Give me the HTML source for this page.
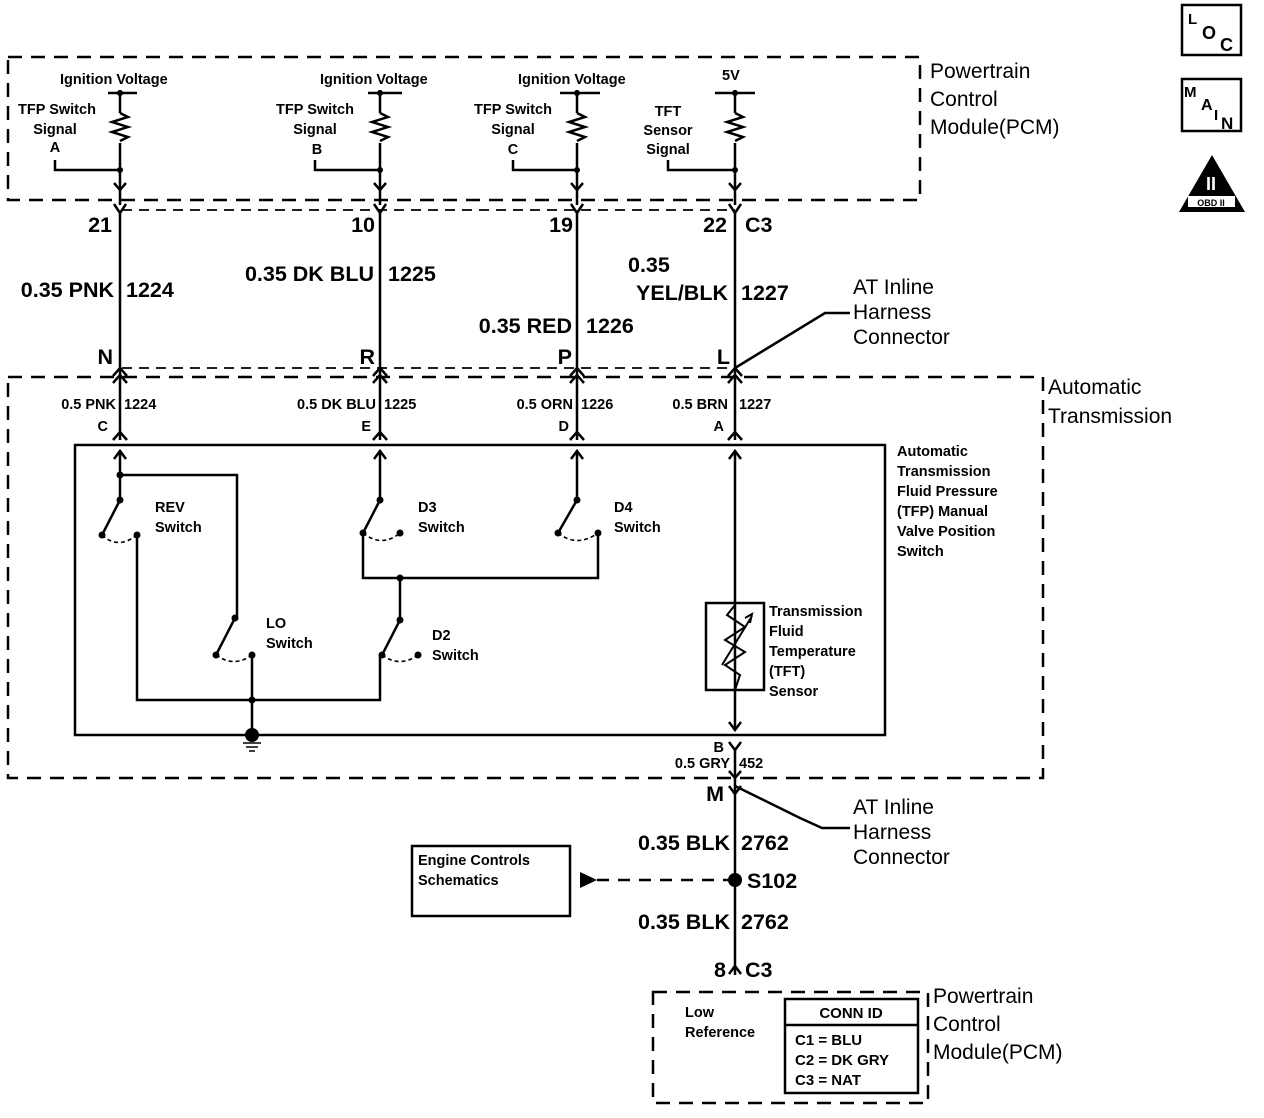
<!DOCTYPE html>
<html><head><meta charset="utf-8"><style>
html,body{margin:0;padding:0;background:#fff;}
svg{display:block;}
text{font-family:"Liberation Sans",sans-serif;fill:#000;font-weight:bold;}
.s{font-size:14.5px;}
.m{font-size:15px;}
.l{font-size:21px;font-weight:normal;}
.b{font-size:21.5px;}
</style></head><body>
<svg width="1264" height="1118" viewBox="0 0 1264 1118" xmlns="http://www.w3.org/2000/svg">
<g fill="none" stroke="#000" stroke-width="2.5">
<path d="M8 57 H920 V200 H8 Z" stroke-dasharray="14 9"/>
<path d="M122 210 H735" stroke-width="1.8" stroke-dasharray="10 7"/>
<path d="M122 368 H735" stroke-width="1.8" stroke-dasharray="10 7"/>
<path d="M8 377 H1043 V778 H8 Z" stroke-dasharray="14 9"/>
<rect x="75" y="445" width="810" height="290"/>
<path d="M653 992 H928 V1103 H653 Z" stroke-dasharray="14 9"/>
<path d="M120 90 V205 M120 213 V440 M380 90 V205 M380 213 V440 M577 90 V205 M577 213 V440 M735 90 V205 M735 213 V440"/>
<path d="M108 93 H137 M368 93 H402 M560 93 H600 M715 93 H755"/>
<path d="M55 160 V170 H120 M315 160 V170 H380 M513 160 V170 H577 M668 160 V170 H735"/>
</g>
<g fill="#fff" stroke="none">
<rect x="114" y="113" width="12" height="30"/><rect x="374" y="113" width="12" height="30"/><rect x="571" y="113" width="12" height="30"/><rect x="729" y="113" width="12" height="30"/>
</g>
<g fill="none" stroke="#000" stroke-width="2.5">
<path d="M120 113 L128 117 L112 122 L128 127 L112 132 L128 137 L120 141"/>
<path d="M380 113 L388 117 L372 122 L388 127 L372 132 L388 137 L380 141"/>
<path d="M577 113 L585 117 L569 122 L585 127 L569 132 L585 137 L577 141"/>
<path d="M735 113 L743 117 L727 122 L743 127 L727 132 L743 137 L735 141"/>
<path d="M114 183 L120 190 L126 183 M374 183 L380 190 L386 183 M571 183 L577 190 L583 183 M729 183 L735 190 L741 183"/>
<path d="M114 204 L120 213 L126 204 M374 204 L380 213 L386 204 M571 204 L577 213 L583 204 M729 204 L735 213 L741 204"/>
<path d="M113 376 L120 368 L127 376 M113 383 L120 375 L127 383 M373 376 L380 368 L387 376 M373 383 L380 375 L387 383 M570 376 L577 368 L584 376 M570 383 L577 375 L584 383 M728 376 L735 368 L742 376 M728 383 L735 375 L742 383"/>
<path d="M113 440 L120 432 L127 440 M373 440 L380 432 L387 440 M570 440 L577 432 L584 440 M728 440 L735 432 L742 440"/>
<path d="M120 452 V500 M380 452 V500 M577 452 V500 M735 452 V730"/>
<path d="M114 459 L120 451 L126 459 M374 459 L380 451 L386 459 M571 459 L577 451 L583 459 M729 459 L735 451 L741 459"/>
<path d="M729 722 L735 730 L741 722"/>
<path d="M735 368 L825 313 H850"/>
<path d="M120 475 H237 V618"/>
<path d="M120 500 L102 535"/>
<path d="M137 535 V700 H380 V655"/>
<path d="M235 618 L216 655"/>
<path d="M252 655 V735"/>
<path d="M380 500 L363 533 V578 H598 V533"/>
<path d="M400 578 V620 L382 655"/>
<path d="M577 500 L558 533"/>
<rect x="706" y="603" width="58" height="87"/>
<path d="M735 605 L727 615 L745 627 L725 640 L745 652 L725 665 L740 675 L735 690" stroke-width="2"/>
<path d="M722 665 L752 616 M745 618 L752 614 L750 623" stroke-width="2"/>
<path d="M729 742 L735 750 L741 742"/>
<path d="M735 750 V975"/>
<path d="M729 771 L735 778 L741 771"/>
<path d="M729 786 L735 794 L741 786"/>
<path d="M735 786 L800 818 L822 828 H850"/>
<path d="M729 974 L735 966 L741 974"/>
<rect x="412" y="846" width="158" height="70"/>
<path d="M597 880 H728" stroke-dasharray="12 9"/>
<rect x="785" y="999" width="133" height="94"/>
<path d="M785 1025 H918"/>
</g>
<g fill="none" stroke="#000" stroke-width="1.6" stroke-dasharray="4 3">
<path d="M102 535 Q118 550 137 535"/>
<path d="M216 655 Q234 668 252 655"/>
<path d="M363 533 Q382 548 400 533"/>
<path d="M558 533 Q577 548 598 533"/>
<path d="M382 655 Q400 668 418 655"/>
</g>
<g fill="#000">
<circle cx="120" cy="93" r="3"/><circle cx="380" cy="93" r="3"/><circle cx="577" cy="93" r="3"/><circle cx="735" cy="93" r="3"/>
<circle cx="120" cy="170" r="3"/><circle cx="380" cy="170" r="3"/><circle cx="577" cy="170" r="3"/><circle cx="735" cy="170" r="3"/>
<circle cx="120" cy="475" r="3.5"/><circle cx="120" cy="500" r="3.5"/><circle cx="102" cy="535" r="3.5"/><circle cx="137" cy="535" r="3.5"/>
<circle cx="235" cy="618" r="3.5"/><circle cx="216" cy="655" r="3.5"/><circle cx="252" cy="655" r="3.5"/><circle cx="252" cy="700" r="3.5"/>
<circle cx="380" cy="500" r="3.5"/><circle cx="363" cy="533" r="3.5"/><circle cx="400" cy="533" r="3.5"/>
<circle cx="577" cy="500" r="3.5"/><circle cx="558" cy="533" r="3.5"/><circle cx="598" cy="533" r="3.5"/>
<circle cx="400" cy="578" r="3.5"/><circle cx="400" cy="620" r="3.5"/><circle cx="382" cy="655" r="3.5"/><circle cx="418" cy="655" r="3.5"/>
<circle cx="252" cy="735" r="7"/>
<circle cx="735" cy="880" r="7"/>
<path d="M580 872 L597 880 L580 888 Z"/>
</g>
<path d="M243 743 H261 M246 747 H258 M249 751 H255" stroke="#000" stroke-width="1.5"/>
<g fill="none" stroke="#000" stroke-width="2.5">
<rect x="1182" y="5" width="59" height="50"/>
<rect x="1182" y="79" width="59" height="52"/>
</g>
<text x="1188" y="24" font-size="15">L</text><text x="1202" y="39" font-size="18">O</text><text x="1220" y="51" font-size="18">C</text>
<text x="1184" y="97" font-size="15">M</text><text x="1201" y="110" font-size="16">A</text><text x="1214" y="120" font-size="15">I</text><text x="1221" y="129" font-size="17">N</text>
<path d="M1212 155 L1245 212 H1179 Z" fill="#000"/>
<rect x="1188" y="196" width="47" height="11" fill="#fff"/>
<text x="1211" y="206" font-size="9" text-anchor="middle">OBD II</text>
<text x="1211" y="190" font-size="18" text-anchor="middle" style="fill:#fff">II</text>
<text x="60" y="84" class="s">Ignition Voltage</text>
<text x="320" y="84" class="s">Ignition Voltage</text>
<text x="518" y="84" class="s">Ignition Voltage</text>
<text x="722" y="80" class="s">5V</text>
<text x="57" y="114" class="s" text-anchor="middle">TFP Switch</text><text x="55" y="134" class="s" text-anchor="middle">Signal</text><text x="55" y="152" class="s" text-anchor="middle">A</text>
<text x="315" y="114" class="s" text-anchor="middle">TFP Switch</text><text x="315" y="134" class="s" text-anchor="middle">Signal</text><text x="317" y="154" class="s" text-anchor="middle">B</text>
<text x="513" y="114" class="s" text-anchor="middle">TFP Switch</text><text x="513" y="134" class="s" text-anchor="middle">Signal</text><text x="513" y="154" class="s" text-anchor="middle">C</text>
<text x="668" y="116" class="s" text-anchor="middle">TFT</text><text x="668" y="135" class="s" text-anchor="middle">Sensor</text><text x="668" y="154" class="s" text-anchor="middle">Signal</text>
<text x="930" y="78" class="l">Powertrain</text><text x="930" y="106" class="l">Control</text><text x="930" y="134" class="l">Module(PCM)</text>
<text x="112" y="232" class="b" text-anchor="end">21</text>
<text x="375" y="232" class="b" text-anchor="end">10</text>
<text x="573" y="232" class="b" text-anchor="end">19</text>
<text x="727" y="232" class="b" text-anchor="end">22</text>
<text x="745" y="232" class="b">C3</text>
<text x="114" y="297" class="b" text-anchor="end">0.35 PNK</text><text x="126" y="297" class="b">1224</text>
<text x="374" y="281" class="b" text-anchor="end">0.35 DK BLU</text><text x="388" y="281" class="b">1225</text>
<text x="572" y="333" class="b" text-anchor="end">0.35 RED</text><text x="586" y="333" class="b">1226</text>
<text x="628" y="272" class="b">0.35</text>
<text x="728" y="300" class="b" text-anchor="end">YEL/BLK</text><text x="741" y="300" class="b">1227</text>
<text x="113" y="364" class="b" text-anchor="end">N</text>
<text x="375" y="364" class="b" text-anchor="end">R</text>
<text x="572" y="364" class="b" text-anchor="end">P</text>
<text x="730" y="364" class="b" text-anchor="end">L</text>
<text x="853" y="294" class="l">AT Inline</text><text x="853" y="319" class="l">Harness</text><text x="853" y="344" class="l">Connector</text>
<text x="1048" y="394" class="l">Automatic</text><text x="1048" y="423" class="l">Transmission</text>
<text x="116" y="409" class="s" text-anchor="end">0.5 PNK</text><text x="124" y="409" class="s">1224</text>
<text x="376" y="409" class="s" text-anchor="end">0.5 DK BLU</text><text x="384" y="409" class="s">1225</text>
<text x="573" y="409" class="s" text-anchor="end">0.5 ORN</text><text x="581" y="409" class="s">1226</text>
<text x="728" y="409" class="s" text-anchor="end">0.5 BRN</text><text x="739" y="409" class="s">1227</text>
<text x="108" y="431" class="s" text-anchor="end">C</text>
<text x="371" y="431" class="s" text-anchor="end">E</text>
<text x="569" y="431" class="s" text-anchor="end">D</text>
<text x="724" y="431" class="s" text-anchor="end">A</text>
<text x="897" y="456" class="s">Automatic</text><text x="897" y="476" class="s">Transmission</text><text x="897" y="496" class="s">Fluid Pressure</text><text x="897" y="516" class="s">(TFP) Manual</text><text x="897" y="536" class="s">Valve Position</text><text x="897" y="556" class="s">Switch</text>
<text x="155" y="512" class="s">REV</text><text x="155" y="532" class="s">Switch</text>
<text x="418" y="512" class="s">D3</text><text x="418" y="532" class="s">Switch</text>
<text x="614" y="512" class="s">D4</text><text x="614" y="532" class="s">Switch</text>
<text x="266" y="628" class="s">LO</text><text x="266" y="648" class="s">Switch</text>
<text x="432" y="640" class="s">D2</text><text x="432" y="660" class="s">Switch</text>
<text x="769" y="616" class="s">Transmission</text><text x="769" y="636" class="s">Fluid</text><text x="769" y="656" class="s">Temperature</text><text x="769" y="676" class="s">(TFT)</text><text x="769" y="696" class="s">Sensor</text>
<text x="724" y="752" class="s" text-anchor="end">B</text>
<text x="730" y="768" class="s" text-anchor="end">0.5 GRY</text><text x="739" y="768" class="s">452</text>
<text x="724" y="801" class="b" text-anchor="end">M</text>
<text x="853" y="814" class="l">AT Inline</text><text x="853" y="839" class="l">Harness</text><text x="853" y="864" class="l">Connector</text>
<text x="730" y="850" class="b" text-anchor="end">0.35 BLK</text><text x="741" y="850" class="b">2762</text>
<text x="747" y="888" class="b">S102</text>
<text x="730" y="929" class="b" text-anchor="end">0.35 BLK</text><text x="741" y="929" class="b">2762</text>
<text x="726" y="977" class="b" text-anchor="end">8</text><text x="745" y="977" class="b">C3</text>
<text x="418" y="865" class="s">Engine Controls</text><text x="418" y="885" class="s">Schematics</text>
<text x="685" y="1017" class="s">Low</text><text x="685" y="1037" class="s">Reference</text>
<text x="851" y="1018" class="m" text-anchor="middle">CONN ID</text>
<text x="795" y="1045" class="m">C1 = BLU</text>
<text x="795" y="1065" class="m">C2 = DK GRY</text>
<text x="795" y="1085" class="m">C3 = NAT</text>
<text x="933" y="1003" class="l">Powertrain</text><text x="933" y="1031" class="l">Control</text><text x="933" y="1059" class="l">Module(PCM)</text>
</svg>
</body></html>
